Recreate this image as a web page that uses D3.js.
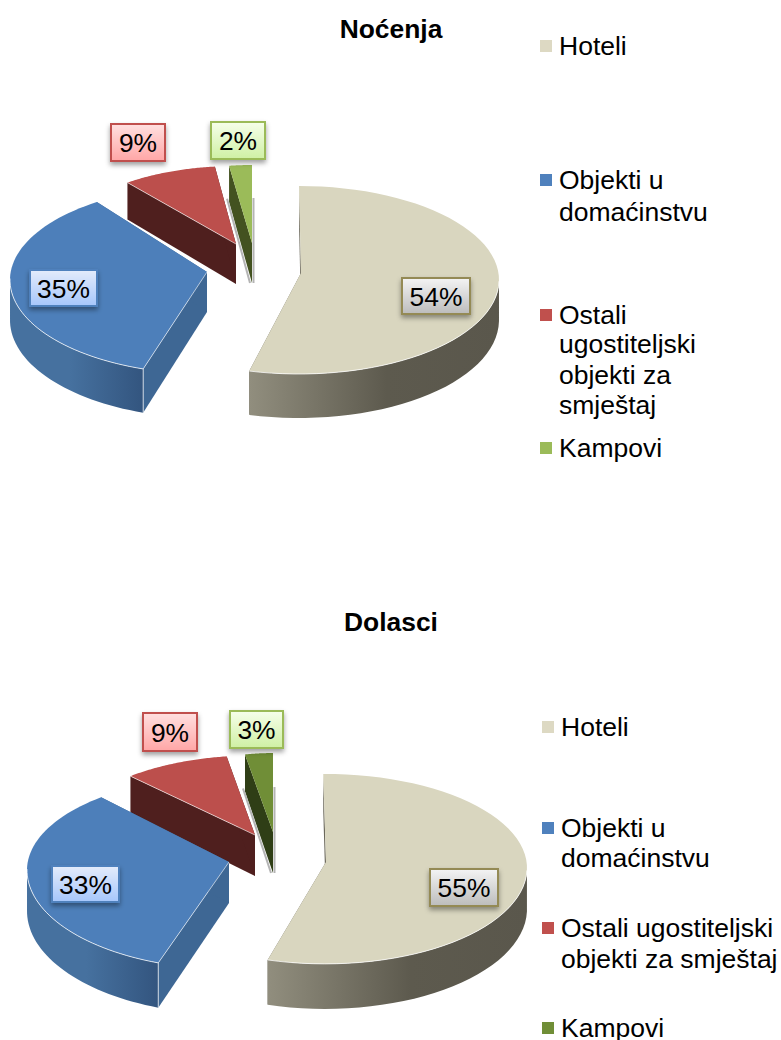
<!DOCTYPE html>
<html>
<head>
<meta charset="utf-8">
<script src="https://cdn.jsdelivr.net/npm/d3@7"></script>
<style>
  html, body { margin: 0; padding: 0; background: #fff; }
  svg { display: block; font-family: "Liberation Sans", Arial, sans-serif; }
</style>
</head>
<body>
<div id="chart"></div>
<script>
const categories = ["Hoteli", "Objekti u domaćinstvu", "Ostali ugostiteljski objekti za smještaj", "Kampovi"];
const nocenjaValues = [54, 35, 9, 2];
const dolasciValues = [55, 33, 9, 3];

const legendLines1 = [["Hoteli"], ["Objekti u", "domaćinstvu"], ["Ostali", "ugostiteljski", "objekti za", "smještaj"], ["Kampovi"]];
const legendLines2 = [["Hoteli"], ["Objekti u", "domaćinstvu"], ["Ostali ugostiteljski", "objekti za smještaj"], ["Kampovi"]];

const width = 781, height = 1040;
const svg = d3.select("#chart").append("svg").attr("width", width).attr("height", height);
const defs = svg.append("defs");

// colours per slice
const palette = [
    { top: "#d9d6bf", face: "#6b685b", rim: ["#918e7e", "#5d5a4e", "#5a574c"], edge: "#948a54", lab: ["#f4f4f4", "#bcbcbc"], key: "#ddd9c3" },
    { top: "#4d7fba", face: "#3e6794", rim: ["#46719f", "#33557f", "#33557f"], edge: "#4f81bd", lab: ["#e4ecfb", "#a6c6fb"], key: "#4f81bd" },
    { top: "#bc4f4c", face: "#4f1f1e", rim: ["#4f1f1e", "#4f1f1e", "#4f1f1e"], edge: "#c0504d", lab: ["#ffe0e0", "#ffa6a6"], key: "#c0504d" },
    { top: "#9bbb59", face: "#435220", rim: ["#435220", "#435220", "#435220"], edge: "#9bbb59", lab: ["#f6ffea", "#cff0a4"], key: "#9bbb59" }
];

// explode/perspective of each slice: shift from pie centre, radius scale, angle correction (deg), apex lift
const chart1 = {
    id: "a", title: "Noćenja", titleY: 38, values: nocenjaValues,
    center: [300, 280], rx: 199, ry: 94, depth: 40, depthVar: 4,
    slices: [
        { dx: -1, dy: 0, sx: 1.005, sy: 1, turn: 0, lift: 7, apexDx: 2 },
        { dx: -93, dy: 0, sx: 0.99, sy: 1, turn: 4.5, trim: -1.1, lift: 8 },
        { dx: -64, dy: -36, sx: 0.884, sy: 0.83, turn: 1.5, trim: 1.2, lift: 0 },
        { dx: -48, dy: -21, sx: 0.92, sy: 1, turn: 0, lift: 16 }
    ],
    labels: [[401, 277, 70, 38], [29, 269, 69, 38], [110, 123, 56, 39], [210, 121, 56, 39]],
    legendLines: legendLines1, legendX: 540, legendTextX: 559,
    legendY: [[46], [180, 212], [315, 344, 375, 405], [448]]
};
const chart2 = {
    id: "b", title: "Dolasci", titleY: 631, values: dolasciValues,
    center: [325, 868], rx: 202, ry: 94, depth: 41, depthVar: 4,
    slices: [
        { dx: 0, dy: 0, sx: 1, sy: 1, fy: 1.02, turn: -0.5, trim: 1, lift: 6, apexDx: 1 },
        { dx: -96, dy: 2, sx: 1, sy: 1, fy: 1.055, turn: 2.5, trim: -1.4, lift: 8 },
        { dx: -70, dy: -28, sx: 0.94, sy: 0.9, turn: 2.2, lift: 5 },
        { dx: -52, dy: -36, sx: 0.74, sy: 0.84, turn: 0, lift: 0 }
    ],
    labels: [[429, 868, 70, 39], [51, 865, 69, 38], [142, 712, 56, 40], [229, 710, 55, 39]],
    legendLines: legendLines2, legendX: 542, legendTextX: 561,
    legendY: [[727], [828, 858], [928, 959], [1028]],
    campTop: "#708e37", campFace: "#2f3e16", campLegend: "#708e37"
};

const pie = d3.pie().sort(null).value(d => d);
const line = d3.line();

// soft shadow used under the value labels
const shadow = defs.append("filter").attr("id", "labShadow")
    .attr("x", "-20%").attr("y", "-20%").attr("width", "140%").attr("height", "150%");
shadow.append("feDropShadow").attr("dx", 0).attr("dy", 3).attr("stdDeviation", 2.5)
    .attr("flood-color", "#000").attr("flood-opacity", 0.38);

function drawPie(cfg) {
    const g = svg.append("g");
    const arcs = pie(cfg.values);

    g.append("text").attr("x", 391).attr("y", cfg.titleY)
        .attr("text-anchor", "middle").attr("font-weight", "bold").attr("font-size", 26.4)
        .attr("fill", "#000").text(cfg.title);

    // far slices first so the nearer ones sit on top
    [2, 3, 1, 0].forEach(i => drawSlice(g, cfg, arcs[i], i));

    cfg.labels.forEach((box, i) => drawLabel(g, cfg, box, i));
    drawLegend(g, cfg);
}

function drawSlice(g, cfg, a, i) {
    const s = cfg.slices[i];
    let col = palette[i];
    if (i === 3 && cfg.campTop) col = Object.assign({}, col, { top: cfg.campTop, face: cfg.campFace });

    const cx = cfg.center[0] + s.dx, cy = cfg.center[1] + s.dy;
    const rx = cfg.rx * s.sx, ry = cfg.ry * s.sy;
    const rad = Math.PI / 180;
    const a0 = a.startAngle + s.turn * rad, a1 = a.endAngle + (s.turn - (s.trim || 0)) * rad;

    // near half of the ellipse is a bit deeper than the far half
    const pt = t => {
        const c = Math.cos(t);
        return [cx + rx * Math.sin(t), cy - ry * c * (c < 0 ? (s.fy || 1) : 1)];
    };
    const depthAt = t => cfg.depth - cfg.depthVar * Math.cos(t);
    const down = (p, d) => [p[0], p[1] + d];
    const apex = [cx + (s.apexDx || 0), cy - s.lift];
    const apexLow = down(apex, cfg.depth);
    const ts = d3.range(0, 61).map(k => a0 + (a1 - a0) * k / 60);

    const gradId = `rim-${cfg.id}-${i}`;
    const xs = ts.map(t => pt(t)[0]);
    const grad = defs.append("linearGradient").attr("id", gradId)
        .attr("gradientUnits", "userSpaceOnUse")
        .attr("x1", i === 0 ? d3.min(xs) : d3.max(xs)).attr("x2", i === 0 ? d3.max(xs) : d3.min(xs))
        .attr("y1", 0).attr("y2", 0);
    const stops = i === 0 ? col.rim : [col.rim[1], col.rim[0], col.rim[0]];
    grad.selectAll("stop").data(stops).enter().append("stop")
        .attr("offset", (d, k) => k === 0 ? 0 : (k === 1 ? 0.55 : 1))
        .attr("stop-color", d => d);

    // radial side faces
    [a0, a1].forEach(t => {
        const p = pt(t), d = depthAt(t);
        g.append("path")
            .attr("d", line([p, apex, apexLow, down(p, d)]) + "Z")
            .attr("fill", col.face);
    });

    // thin grey slivers along the camp wedge
    if (i === 3) {
        [[a0, -2], [a1, 1.5]].forEach(([t, off]) => {
            const p = pt(t);
            g.append("path")
                .attr("d", line([[p[0] + off, p[1] + depthAt(t) - 3], [apexLow[0] + off, apexLow[1]]]))
                .attr("fill", "none").attr("stroke", "#b4b4b4").attr("stroke-width", 2);
        });
    }

    // outer rim, only the part facing the viewer
    const front = ts.filter(t => Math.cos(t) < 0.02);
    if (front.length > 1) {
        const upper = front.map(pt);
        const lower = front.map(t => down(pt(t), depthAt(t))).reverse();
        g.append("path").attr("d", line(upper.concat(lower)) + "Z").attr("fill", `url(#${gradId})`);
    }

    // top surface
    g.append("path")
        .attr("d", line([apex].concat(ts.map(pt))) + "Z")
        .attr("fill", col.top);

    if (i < 3) {
        // seams on the edges that meet a side face
        if (i > 0) g.append("path").attr("d", line([pt(a0), apex])).attr("fill", "none")
            .attr("stroke", "#fff").attr("stroke-opacity", 0.6).attr("stroke-width", 1);
        if (front.length > 1) g.append("path").attr("d", line(front.map(pt))).attr("fill", "none")
            .attr("stroke", "#fff").attr("stroke-opacity", 0.75).attr("stroke-width", 1);
    }
    if (i === 1) {
        const p = pt(a0);
        g.append("path").attr("d", line([p, down(p, depthAt(a0))])).attr("fill", "none")
            .attr("stroke", "#fff").attr("stroke-opacity", 0.7).attr("stroke-width", 1);
    }
}

function drawLabel(g, cfg, box, i) {
    const col = palette[i];
    const id = `lab-${cfg.id}-${i}`;
    const grad = defs.append("linearGradient").attr("id", id).attr("x1", 0).attr("x2", 0).attr("y1", 0).attr("y2", 1);
    grad.append("stop").attr("offset", 0).attr("stop-color", col.lab[0]);
    grad.append("stop").attr("offset", 1).attr("stop-color", col.lab[1]);
    g.append("rect")
        .attr("x", box[0] + 1).attr("y", box[1] + 1)
        .attr("width", box[2] - 2).attr("height", box[3] - 2)
        .attr("fill", `url(#${id})`).attr("stroke", col.edge).attr("stroke-width", 2)
        .attr("filter", "url(#labShadow)");
    g.append("text")
        .attr("x", box[0] + box[2] / 2).attr("y", box[1] + box[3] / 2 + 9.5)
        .attr("text-anchor", "middle").attr("font-size", 26.4).attr("fill", "#000")
        .text(cfg.values[i] + "%");
}

function drawLegend(g, cfg) {
    cfg.legendLines.forEach((lines, i) => {
        const first = cfg.legendY[i][0];
        let fill = palette[i].key;
        if (i === 3 && cfg.campLegend) fill = cfg.campLegend;
        g.append("rect").attr("x", cfg.legendX).attr("y", first - 6)
            .attr("width", 12).attr("height", 12).attr("fill", fill);
        lines.forEach((txt, k) => {
            g.append("text").attr("x", cfg.legendTextX).attr("y", cfg.legendY[i][k] + 9)
                .attr("font-size", 26.5).attr("fill", "#000").text(txt);
        });
    });
}

drawPie(chart1);
drawPie(chart2);
</script>
</body>
</html>
